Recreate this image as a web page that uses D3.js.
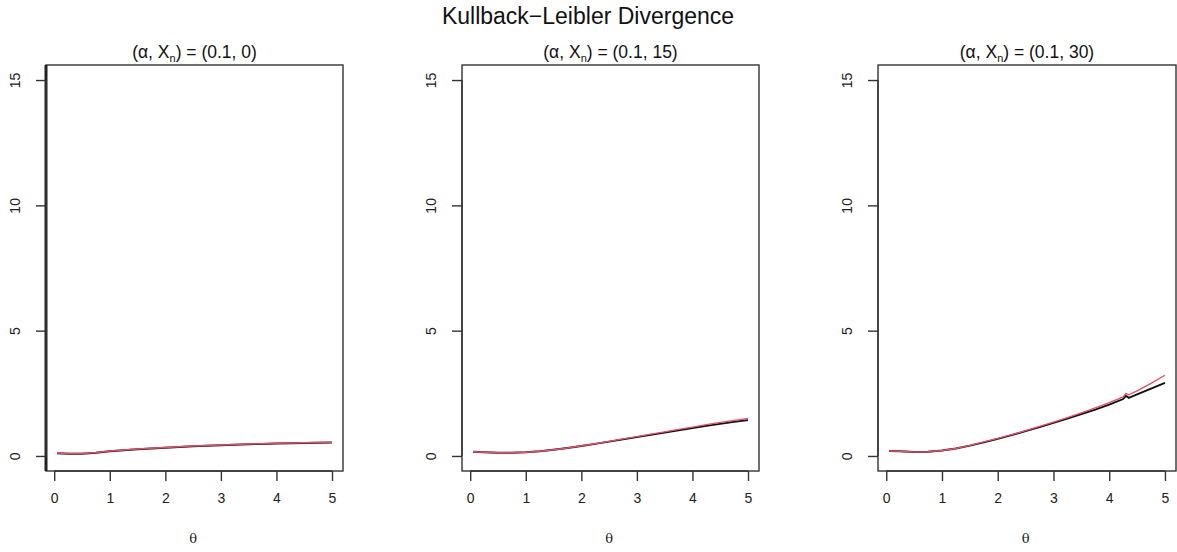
<!DOCTYPE html>
<html>
<head>
<meta charset="utf-8">
<script src="https://cdn.jsdelivr.net/npm/d3@7"></script>
<style>
  html, body { margin: 0; padding: 0; background: #fff; }
  svg { display: block; font-family: "Liberation Sans", Arial, Helvetica, sans-serif; }
</style>
</head>
<body>
<svg id="chart" width="1177" height="552"></svg>
<script>
// ---- data ----
const mainTitle = "Kullback\u2212Leibler Divergence";
const panelXn = ["0", "15", "30"];
const alphaVal = "0.1";
const xTicks = [0, 1, 2, 3, 4, 5];
const yTicks = [0, 5, 10, 15];

const thetaAB = [0.05, 0.25, 0.5, 0.75, 1, 1.25, 1.5, 1.75, 2, 2.25, 2.5, 2.75, 3, 3.25, 3.5, 3.75, 4, 4.25, 4.5, 4.75, 5];
const p1Black = [0.11, 0.09, 0.09, 0.13, 0.19, 0.23, 0.27, 0.30, 0.33, 0.36, 0.39, 0.41, 0.43, 0.45, 0.47, 0.48, 0.50, 0.51, 0.52, 0.53, 0.54];
const p1Red   = [0.12, 0.10, 0.10, 0.14, 0.20, 0.24, 0.28, 0.31, 0.34, 0.37, 0.40, 0.42, 0.44, 0.46, 0.48, 0.49, 0.51, 0.52, 0.53, 0.54, 0.55];
const p2Black = [0.17, 0.15, 0.13, 0.13, 0.15, 0.19, 0.25, 0.32, 0.40, 0.48, 0.57, 0.66, 0.75, 0.84, 0.93, 1.02, 1.11, 1.20, 1.28, 1.36, 1.43];
const p2Red   = [0.17, 0.15, 0.13, 0.13, 0.15, 0.19, 0.25, 0.32, 0.41, 0.49, 0.58, 0.68, 0.77, 0.87, 0.96, 1.06, 1.15, 1.25, 1.34, 1.42, 1.50];
const thetaC = [0.05, 0.25, 0.5, 0.75, 1, 1.25, 1.5, 1.75, 2, 2.25, 2.5, 2.75, 3, 3.25, 3.5, 3.75, 4, 4.25, 4.3, 4.35, 4.5, 4.75, 5];
const p3Black = [0.20, 0.19, 0.16, 0.17, 0.22, 0.30, 0.41, 0.54, 0.68, 0.83, 0.99, 1.15, 1.32, 1.49, 1.67, 1.85, 2.05, 2.27, 2.40, 2.32, 2.46, 2.69, 2.92];
const p3Red   = [0.20, 0.19, 0.16, 0.17, 0.22, 0.30, 0.42, 0.56, 0.70, 0.85, 1.01, 1.18, 1.35, 1.53, 1.72, 1.92, 2.13, 2.36, 2.50, 2.44, 2.60, 2.90, 3.22];

const panels = [
  { xn: panelXn[0], theta: thetaAB, black: p1Black, red: p1Red, left: 46, right: 343, thickLeft: true },
  { xn: panelXn[1], theta: thetaAB, black: p2Black, red: p2Red, left: 462, right: 759, thickLeft: false },
  { xn: panelXn[2], theta: thetaC,  black: p3Black, red: p3Red, left: 878, right: 1176, thickLeft: false }
];

// ---- drawing ----
const svg = d3.select("#chart");
const plotTop = 65, plotBottom = 471;
const boxColor = "#333";
const redColor = "#DF536B";

svg.append("text")
  .attr("x", 588).attr("y", 24)
  .attr("text-anchor", "middle")
  .attr("font-size", 23)
  .attr("fill", "#111")
  .text(mainTitle);

panels.forEach(p => {
  const x = d3.scaleLinear().domain([-0.148, 5.198]).range([p.left, p.right]);
  const y = d3.scaleLinear().domain([-0.6, 15.6]).range([plotBottom, plotTop]);
  const g = svg.append("g");

  const cid = "clip" + p.left;
  g.append("clipPath").attr("id", cid)
    .append("rect").attr("x", p.left).attr("y", plotTop).attr("width", p.right - p.left).attr("height", plotBottom - plotTop);

  const line = (vals) => d3.line().x((d, i) => x(p.theta[i])).y(d => y(d))(vals);

  g.append("path").attr("d", line(p.black))
    .attr("fill", "none").attr("stroke", "#111").attr("stroke-width", 1.9)
    .attr("clip-path", `url(#${cid})`);
  g.append("path").attr("d", line(p.red))
    .attr("fill", "none").attr("stroke", redColor).attr("stroke-width", 1.4)
    .attr("clip-path", `url(#${cid})`);

  g.append("rect").attr("x", p.left).attr("y", plotTop)
    .attr("width", p.right - p.left).attr("height", plotBottom - plotTop)
    .attr("fill", "none").attr("stroke", boxColor).attr("stroke-width", 1.4);
  if (p.thickLeft) {
    g.append("line").attr("x1", p.left).attr("x2", p.left).attr("y1", plotTop).attr("y2", plotBottom)
      .attr("stroke", "#222").attr("stroke-width", 3);
  }

  const xAxis = d3.axisBottom(x).tickValues(xTicks).tickSize(10).tickPadding(12)
    .tickFormat(d3.format("d"));
  const gx = g.append("g").attr("transform", `translate(0,${plotBottom})`).call(xAxis);
  gx.select(".domain").attr("d", `M${x(0)},0H${x(5)}`).attr("stroke", boxColor).attr("stroke-width", 1.4);
  gx.selectAll(".tick line").attr("stroke", boxColor).attr("stroke-width", 1.4);
  gx.selectAll(".tick text").attr("font-size", 14).attr("fill", "#222")
    .attr("font-family", "'Liberation Sans', Arial, sans-serif");

  const yAxis = d3.axisLeft(y).tickValues(yTicks).tickSize(10).tickPadding(0).tickFormat(d3.format("d"));
  const gy = g.append("g").attr("transform", `translate(${p.left},0)`).call(yAxis);
  gy.select(".domain").attr("d", `M0,${y(0)}V${y(15)}`).attr("stroke", boxColor).attr("stroke-width", 1.4);
  gy.selectAll(".tick line").attr("stroke", boxColor).attr("stroke-width", 1.4);
  gy.selectAll(".tick text")
    .attr("x", null).attr("dy", null)
    .attr("text-anchor", "middle")
    .attr("dominant-baseline", "central")
    .attr("transform", "translate(-31,0) rotate(-90)")
    .attr("font-size", 14).attr("fill", "#222")
    .attr("font-family", "'Liberation Sans', Arial, sans-serif");

  g.append("text").attr("x", (x(0) + x(5)) / 2).attr("y", 543)
    .attr("text-anchor", "middle").attr("font-size", 13).attr("fill", "#222")
    .attr("font-family", "'DejaVu Serif', serif")
    .text("\u03B8");

  const t = g.append("text").attr("x", (p.left + p.right) / 2).attr("y", 58)
    .attr("text-anchor", "middle").attr("font-size", 17.5).attr("fill", "#111");
  t.append("tspan").text("(\u03B1, X");
  t.append("tspan").attr("font-size", 11).attr("dy", 4).text("n");
  t.append("tspan").attr("dy", -4).text(") = (" + alphaVal + ", " + p.xn + ")");
});
</script>
</body>
</html>
